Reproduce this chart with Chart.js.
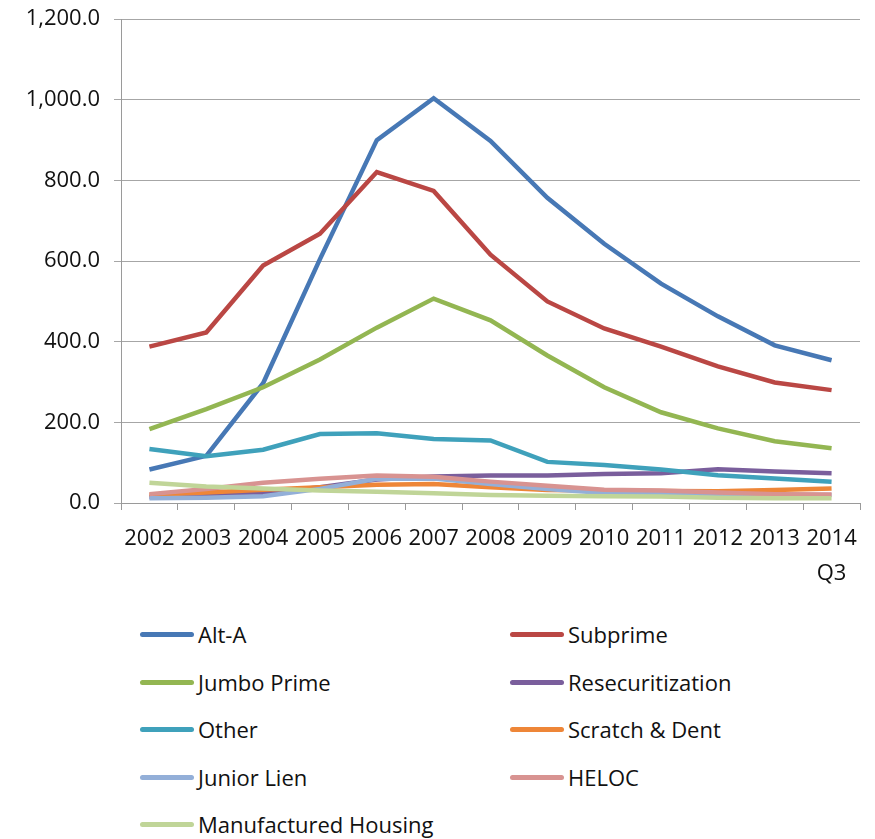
<!DOCTYPE html>
<html>
<head>
<meta charset="utf-8">
<script src="https://cdn.jsdelivr.net/npm/chart.js@4.4.0/dist/chart.umd.min.js"></script>
<style>
  body { margin: 0; background: #fff; font-family: "Open Sans", sans-serif; }
  #wrap { position: relative; width: 875px; height: 839px; overflow: hidden; }
  #chartBox { position: absolute; left: 0; top: -8px; width: 875px; height: 608px; }
  #legend { position: absolute; left: 0; top: 610px; width: 875px; }
  .item { position: absolute; height: 30px; line-height: 30px; font-size: 22px; color: #111; white-space: nowrap; }
  .item span.swatch { position: absolute; left: 0; top: 13px; width: 54px; height: 5px; border-radius: 3px; }
  .item span.txt { position: absolute; left: 58px; top: 0; }
</style>
</head>
<body>
<div id="wrap">
  <div id="chartBox"><canvas id="c"></canvas></div>
  <div id="legend"></div>
</div>
<script>
const years = ["2002", "2003", "2004", "2005", "2006", "2007", "2008", "2009", "2010", "2011", "2012", "2013", ["2014", "Q3"]];

const altA = [83, 117, 297, 605, 900, 1004, 898, 757, 643, 544, 463, 391, 354];
const subprime = [388, 423, 589, 668, 821, 774, 616, 500, 433, 388, 339, 299, 280];
const jumboPrime = [183, 233, 287, 356, 435, 507, 453, 366, 287, 225, 185, 153, 136];
const resecuritization = [15, 20, 25, 39, 58, 66, 68, 68, 72, 74, 84, 78, 74];
const other = [134, 116, 132, 171, 173, 159, 155, 102, 94, 83, 69, 61, 53];
const scratchDent = [20, 26, 33, 39, 45, 47, 39, 32, 31, 30, 29, 32, 36];
const juniorLien = [12, 13, 17, 35, 60, 61, 47, 35, 25, 23, 21, 21, 20];
const heloc = [22, 35, 50, 60, 68, 65, 53, 43, 33, 31, 26, 22, 21];
const manufacturedHousing = [50, 41, 36, 31, 28, 24, 20, 18, 17, 16, 13, 12, 12];

const seriesNames = ["Alt-A", "Subprime", "Jumbo Prime", "Resecuritization", "Other", "Scratch & Dent", "Junior Lien", "HELOC", "Manufactured Housing"];
const seriesData = [altA, subprime, jumboPrime, resecuritization, other, scratchDent, juniorLien, heloc, manufacturedHousing];
const seriesColors = ["#4778B5", "#BA4744", "#93B652", "#7A5E9C", "#3FA1BB", "#EE8638", "#93AFD8", "#D89391", "#C0D598"];

const n = seriesNames.length;
const datasets = seriesNames.map(function(name, i) {
  return {
    label: name,
    data: seriesData[i],
    borderColor: seriesColors[i],
    backgroundColor: seriesColors[i],
    borderWidth: 4.5,
    pointRadius: 0,
    tension: 0,
    order: n - i
  };
});

const font = { family: "Open Sans", size: 22, lineHeight: 1.6 };

new Chart(document.getElementById("c"), {
  type: "line",
  data: { labels: years, datasets: datasets },
  options: {
    responsive: true,
    maintainAspectRatio: false,
    animation: false,
    layout: { padding: { left: 0, right: 15, top: 4, bottom: 0 } },
    plugins: { legend: { display: false }, tooltip: { enabled: false } },
    scales: {
      x: {
        offset: true,
        afterFit: function(s) { s.height = 97; },
        grid: { offset: true, drawOnChartArea: false, drawTicks: true, tickLength: 7, color: "#9a9a9a" },
        border: { color: "#9a9a9a" },
        ticks: { color: "#111", font: font, maxRotation: 0, autoSkip: false, padding: 11 }
      },
      y: {
        min: 0,
        max: 1200,
        afterFit: function(s) { s.width = 121; },
        grid: { color: "#a6a6a6", tickLength: 7 },
        border: { color: "#9a9a9a" },
        ticks: {
          stepSize: 200,
          color: "#111",
          font: { family: "Open Sans", size: 22 },
          padding: 14,
          callback: function(v) { return v.toLocaleString("en-US", { minimumFractionDigits: 1, maximumFractionDigits: 1 }); }
        }
      }
    }
  }
});

// legend in two columns
const legend = document.getElementById("legend");
seriesNames.forEach(function(name, i) {
  const col = i % 2;
  const row = Math.floor(i / 2);
  const div = document.createElement("div");
  div.className = "item";
  div.style.left = (col === 0 ? 140 : 510) + "px";
  div.style.top = (row * 47.5 + 9) + "px";
  div.innerHTML = '<span class="swatch" style="background:' + seriesColors[i] + '"></span><span class="txt"></span>';
  div.querySelector(".txt").textContent = name;
  legend.appendChild(div);
});
</script>
</body>
</html>
